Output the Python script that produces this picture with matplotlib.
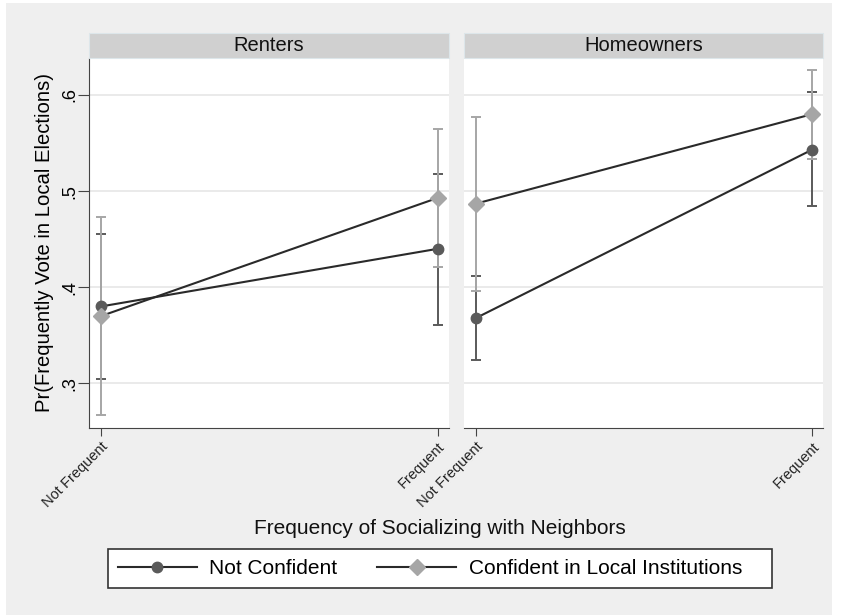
import matplotlib.pyplot as plt
from matplotlib.patches import Rectangle
from matplotlib.lines import Line2D

plt.rcParams['font.family'] = ['Liberation Sans', 'DejaVu Sans']

panels = ['Renters', 'Homeowners']
x_labels = ['Not Frequent', 'Frequent']
series = ['Not Confident', 'Confident in Local Institutions']

# predicted probabilities and 95% CIs, per panel [not frequent, frequent]
renters_not_conf = [0.380, 0.440]
renters_not_conf_lo = [0.305, 0.361]
renters_not_conf_hi = [0.455, 0.518]
renters_conf = [0.370, 0.493]
renters_conf_lo = [0.267, 0.421]
renters_conf_hi = [0.473, 0.565]

owners_not_conf = [0.368, 0.543]
owners_not_conf_lo = [0.324, 0.484]
owners_not_conf_hi = [0.412, 0.603]
owners_conf = [0.487, 0.580]
owners_conf_lo = [0.396, 0.533]
owners_conf_hi = [0.577, 0.626]

yticks = [0.3, 0.4, 0.5, 0.6]
ytick_labels = ['.3', '.4', '.5', '.6']

W, H = 843, 615
fig = plt.figure(figsize=(W / 100, H / 100), dpi=100, facecolor='white')
fig.patches.append(Rectangle((6 / W, 0), 826 / W, 612 / H, transform=fig.transFigure,
                             facecolor='#efefef', edgecolor='none', zorder=-10))

def px_axes(x0, y0, x1, y1):
    return fig.add_axes([x0 / W, 1 - y1 / H, (x1 - x0) / W, (y1 - y0) / H])

dark, light = '#5a5a5a', '#a6a6a6'
data = [
    (renters_not_conf, renters_not_conf_lo, renters_not_conf_hi,
     renters_conf, renters_conf_lo, renters_conf_hi),
    (owners_not_conf, owners_not_conf_lo, owners_not_conf_hi,
     owners_conf, owners_conf_lo, owners_conf_hi),
]
bounds = [(89, 449), (464, 823)]

for i, (name, (nc, nc_lo, nc_hi, c, c_lo, c_hi), (x0, x1)) in enumerate(zip(panels, data, bounds)):
    ax = px_axes(x0, 58, x1, 428)
    xs = [0, 1]
    for vals, lo, hi, col, mk, ms in [(nc, nc_lo, nc_hi, dark, 'o', 7.5),
                                       (c, c_lo, c_hi, light, 'D', 8)]:
        err = [[v - l for v, l in zip(vals, lo)], [h - v for v, h in zip(vals, hi)]]
        ax.errorbar(xs, vals, yerr=err, fmt='none', ecolor=col, elinewidth=1.4,
                    capsize=3.5, capthick=1.4, zorder=2)
        ax.plot(xs, vals, color='#2a2a2a', lw=1.5, marker=mk, ms=ms,
                markerfacecolor=col, markeredgecolor=col, zorder=3)

    ax.set_xlim(-0.036, 1.033)
    ax.set_ylim(0.2535, 0.6385)
    ax.set_yticks(yticks)
    ax.grid(axis='y', color='#e6e6e6', lw=1.2)
    ax.set_axisbelow(True)
    ax.set_xticks(xs)
    ax.set_xticklabels(x_labels, rotation=45, ha='right', va='top',
                       rotation_mode='anchor', fontsize=10.5, color='#222222')
    ax.tick_params(axis='x', length=6, color='#444444', pad=2)
    for s in ['top', 'right']:
        ax.spines[s].set_visible(False)
    ax.spines['bottom'].set_color('#444444')
    if i == 0:
        ax.set_yticklabels(ytick_labels, rotation=90, va='center', fontsize=13)
        ax.tick_params(axis='y', length=8, color='#444444', pad=0)
        ax.spines['left'].set_color('#444444')
        ax.set_ylabel('Pr(Frequently Vote in Local Elections)', fontsize=14.6, labelpad=5)
    else:
        ax.spines['left'].set_visible(False)
        ax.tick_params(axis='y', length=0, labelleft=False)

    # panel header strip
    fig.patches.append(Rectangle((x0 / W, 1 - 58 / H), (x1 - x0) / W, 25 / H,
                                 transform=fig.transFigure, facecolor='#d0d0d0',
                                 edgecolor='#dde6ea', lw=0.8))
    fig.text((x0 + x1) / 2 / W, 1 - 45.5 / H, name, ha='center', va='center',
             fontsize=14.5, color='#111111')

fig.text(440 / W, 1 - 528 / H, 'Frequency of Socializing with Neighbors',
         ha='center', va='center', fontsize=15, color='#111111')

# legend frame is drawn separately so it can carry the wider right margin
fig.patches.append(Rectangle((108 / W, 1 - 588 / H), 664 / W, 39 / H,
                             transform=fig.transFigure, facecolor='white',
                             edgecolor='#333333', lw=1.2))
handles = [Line2D([], [], color='#2a2a2a', lw=1.5, marker='o', ms=7.5,
                  markerfacecolor=dark, markeredgecolor=dark),
           Line2D([], [], color='#2a2a2a', lw=1.5, marker='D', ms=8,
                  markerfacecolor=light, markeredgecolor=light)]
fig.legend(handles, series, loc='center', ncol=2,
           bbox_to_anchor=(430 / W, 1 - 568.5 / H), fontsize=15,
           frameon=False, handlelength=3.8, columnspacing=1.9,
           borderpad=0.25, handletextpad=0.6, borderaxespad=0)

fig.savefig('out.png', dpi=100, facecolor=fig.get_facecolor())
